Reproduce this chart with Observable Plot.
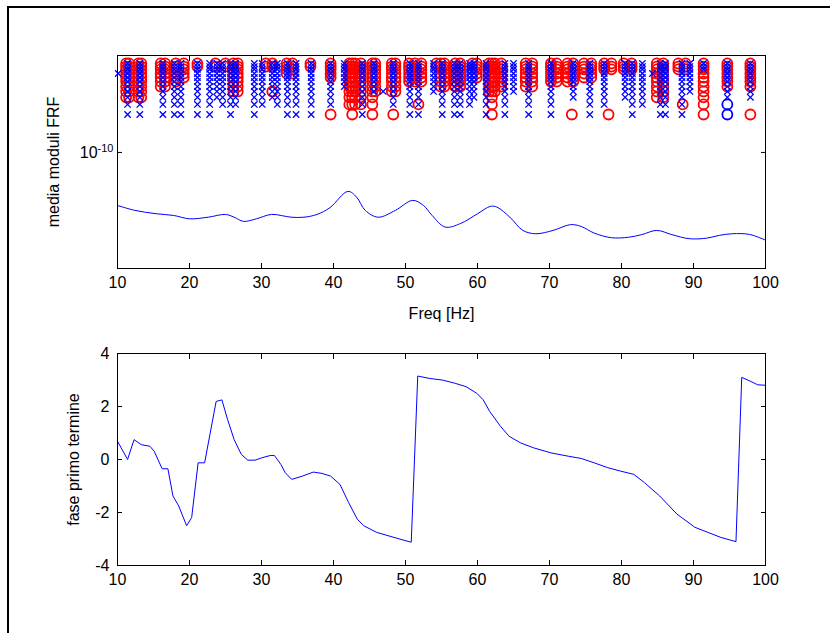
<!DOCTYPE html>
<html><head><meta charset="utf-8">
<script src="https://cdn.jsdelivr.net/npm/d3@7"></script>
<script src="https://cdn.jsdelivr.net/npm/@observablehq/plot@0.6"></script>
<style>
html,body{margin:0;padding:0;background:#fff;width:830px;height:633px;overflow:hidden;}
#fig{position:relative;width:830px;height:633px;background:#fff;}
#border{position:absolute;left:7px;top:6px;width:900px;height:700px;border-top:2px solid #000;border-left:2px solid #000;}
#p1{position:absolute;left:0;top:0;}
#p2{position:absolute;left:0;top:330px;}
</style></head><body>
<div id="fig"><div id="border"></div><div id="p1"></div><div id="p2"></div></div>
<script>
// ---------- data ----------
const freqTicks = [10, 20, 30, 40, 50, 60, 70, 80, 90, 100];
const frfTicks = [1e-10];
const phaseTicks = [-4, -2, 0, 2, 4];

// mean FRF modulus (top, blue line)
const frfFreq = [10, 12.4, 15.4, 17.8, 20, 22.6, 25, 26.2, 27.5, 29.3, 31.4, 34.1, 35.9, 37.7, 39.5, 42, 43.2, 44.4, 46.2, 48.6, 51, 52.5, 53.7, 55.5, 57.6, 60, 61.8, 62.7, 64.5, 66.3, 68.1, 70.5, 72.9, 74.4, 76.2, 78.6, 81, 82.8, 84.9, 87, 89.4, 91.8, 93.6, 95.4, 97.8, 100];
const frfMean = [4.43e-11, 4.11e-11, 3.90e-11, 3.80e-11, 3.61e-11, 3.70e-11, 3.86e-11, 3.70e-11, 3.47e-11, 3.61e-11, 3.86e-11, 3.70e-11, 3.70e-11, 3.86e-11, 4.28e-11, 5.50e-11, 5.04e-11, 4.11e-11, 3.70e-11, 4.11e-11, 4.79e-11, 4.43e-11, 3.80e-11, 3.18e-11, 3.35e-11, 3.90e-11, 4.37e-11, 4.32e-11, 3.70e-11, 3.02e-11, 2.87e-11, 3.02e-11, 3.30e-11, 3.21e-11, 2.90e-11, 2.70e-11, 2.72e-11, 2.83e-11, 3.02e-11, 2.83e-11, 2.66e-11, 2.68e-11, 2.80e-11, 2.87e-11, 2.84e-11, 2.60e-11];

// quantized modulus levels of the individual markers (row 0 = lowest)
const markerLevels = [1.79e-10, 2.09e-10, 2.33e-10, 2.55e-10, 2.75e-10, 2.97e-10, 3.16e-10, 3.36e-10, 3.58e-10, 3.74e-10, 3.92e-10];

// red circle columns: frequency and lowest row reached
const circleFreq = [11.2, 11.6, 12.9, 13.3, 16.0, 16.6, 18.1, 19.2, 21.1, 23.6, 25.0, 26.1, 26.7, 30.6, 31.5, 33.5, 34.3, 36.8, 39.6, 42.2, 43.0, 43.8, 42.6, 45.4, 45.8, 48.1, 48.6, 50.5, 51.3, 52.2, 54.3, 54.9, 55.4, 56.9, 57.6, 59.3, 59.9, 61.6, 62.0, 62.4, 63.3, 66.7, 67.6, 70.2, 71.0, 72.5, 73.3, 74.8, 75.8, 77.6, 78.6, 80.3, 81.4, 84.9, 85.8, 87.9, 88.9, 91.4, 94.7, 97.9];
const circleLowestRow = [2, 2, 2, 2, 4, 4, 5, 6, 9, 9, 9, 3, 3, 9, 9, 7, 7, 9, 6, 1, 1, 1, 0, 0, 3, 3, 3, 5, 5, 5, 9, 4, 4, 4, 4, 6, 6, 3, 0, 3, 4, 4, 4, 5, 5, 5, 5, 6, 6, 8, 8, 8, 8, 2, 2, 8, 8, 0, 4, 4];
const circleExtraFreq = [31.5, 39.6, 48.3, 51.8, 73.1, 78.2, 88.5, 97.9];
const circleExtraRow = [3, 0, 0, 1, 0, 0, 1, 0];

// blue cross columns
const crossFreq = [11.4, 13.1, 16.3, 17.9, 18.8, 21.1, 22.8, 23.8, 24.6, 25.7, 26.4, 29.0, 30.1, 31.5, 32.2, 33.6, 34.8, 36.9, 39.6, 41.5, 44.0, 45.6, 48.3, 50.6, 51.8, 53.9, 55.1, 56.8, 57.6, 58.9, 59.5, 61.2, 63.8, 65.0, 67.1, 70.2, 73.3, 75.6, 77.6, 80.5, 81.5, 82.9, 85.4, 86.1, 88.4, 89.5, 91.4, 94.7, 97.9];
const crossLowestRow = [0, 0, 0, 0, 0, 0, 0, 2, 1, 0, 1, 0, 1, 2, 1, 0, 0, 0, 1, 4, 0, 3, 1, 0, 0, 3, 0, 0, 0, 1, 2, 0, 0, 3, 0, 0, 2, 0, 1, 2, 0, 1, 0, 0, 0, 3, 8, 2, 2];
const crossExtraFreq = [10.1, 46.9, 84.3];
const crossExtraRow = [7, 3, 7];

// blue circles
const blueCircleFreq = [94.7, 94.7];
const blueCircleRow = [0, 1];

// phase of first term (bottom, blue line)
const phaseFreq = [10, 11.4, 12.3, 13.3, 14.5, 15.1, 16.2, 17.0, 17.7, 18.5, 19.6, 20.3, 21.2, 22.1, 23.7, 24.5, 25.3, 26.2, 27.2, 28.1, 29.1, 30.0, 31.2, 31.8, 32.7, 33.3, 34.2, 35.7, 37.2, 38.4, 39.6, 40.9, 42.1, 43.3, 44.2, 46.0, 48.4, 50.5, 50.8, 51.7, 53.3, 55.1, 56.9, 58.4, 59.9, 60.8, 61.7, 63.2, 64.4, 66.0, 67.8, 70.2, 72.6, 74.4, 76.2, 78.1, 79.9, 81.7, 83.2, 85.3, 87.7, 90.2, 92.0, 93.8, 95.9, 96.7, 98.0, 98.9, 100];
const phaseVal = [0.69, 0.0, 0.75, 0.56, 0.5, 0.31, -0.35, -0.35, -1.375, -1.75, -2.5, -2.19, -0.125, -0.125, 2.19, 2.25, 1.5, 0.75, 0.19, -0.025, -0.025, 0.06, 0.15, 0.15, -0.19, -0.5, -0.75, -0.625, -0.475, -0.525, -0.625, -0.94, -1.625, -2.25, -2.5, -2.75, -2.94, -3.1, -3.12, 3.15, 3.06, 3.0, 2.875, 2.75, 2.5, 2.25, 1.81, 1.25, 0.875, 0.625, 0.44, 0.25, 0.125, 0.04, -0.125, -0.31, -0.44, -0.56, -0.875, -1.375, -2.06, -2.56, -2.75, -2.94, -3.1, 3.1, 2.94, 2.82, 2.8];

// ---------- build tables ----------
const frf = frfFreq.map((f, i) => ({f, v: frfMean[i]}));
const phase = phaseFreq.map((f, i) => ({f, v: phaseVal[i]}));
function expandColumns(freqs, lowest) {
  const out = [];
  freqs.forEach((f, i) => { for (let k = lowest[i]; k < markerLevels.length; k++) out.push({f, v: markerLevels[k]}); });
  return out;
}
const singles = (freqs, rows) => freqs.map((f, i) => ({f, v: markerLevels[rows[i]]}));
const circles = expandColumns(circleFreq, circleLowestRow).concat(singles(circleExtraFreq, circleExtraRow));
const crosses = expandColumns(crossFreq, crossLowestRow).concat(singles(crossExtraFreq, crossExtraRow));
const blueCircles = singles(blueCircleFreq, blueCircleRow);

const font = "'Liberation Sans', Arial, sans-serif";
const style = {fontFamily: font, fontSize: "16px", color: "#000", background: "transparent", overflow: "visible"};
const BLUE = "#0000ff", RED = "#ff0000";

const p1 = Plot.plot({
  width: 830, height: 330,
  marginLeft: 117, marginRight: 65, marginTop: 55, marginBottom: 62,
  style,
  x: {domain: [10, 100]},
  y: {type: "log", domain: [1.683e-11, 4.43e-10]},
  marks: [
    Plot.line(frf, {x: "f", y: "v", stroke: BLUE, strokeWidth: 1, curve: "catmull-rom"}),
    Plot.dot(circles, {x: "f", y: "v", r: 5, stroke: RED, strokeWidth: 1.8, symbol: "circle"}),
    Plot.dot(crosses, {x: "f", y: "v", r: 3, stroke: BLUE, strokeWidth: 1.3, symbol: "times"}),
    Plot.dot(blueCircles, {x: "f", y: "v", r: 5, stroke: BLUE, strokeWidth: 1.8, symbol: "circle"}),
    Plot.frame({stroke: "#000"}),
    Plot.axisX({anchor: "bottom", ticks: freqTicks, tickSize: 0, tickPadding: 8, tickFormat: d => String(d), label: "Freq [Hz]", labelAnchor: "center", labelOffset: 50, labelArrow: "none"}),
    Plot.axisX({anchor: "bottom", ticks: freqTicks, tickSize: -5, tickFormat: () => "", label: null}),
    Plot.axisX({anchor: "top", ticks: freqTicks, tickSize: -5, tickFormat: () => "", label: null}),
    Plot.axisY({anchor: "left", ticks: frfTicks, tickSize: 0, tickPadding: 4, tickFormat: () => "10", label: "media moduli FRF", labelAnchor: "center", labelOffset: 70, labelArrow: "none"}),
    Plot.axisY({anchor: "left", ticks: frfTicks, tickSize: -5, tickFormat: () => "", label: null}),
    Plot.axisY({anchor: "right", ticks: frfTicks, tickSize: -5, tickFormat: () => "", label: null})
  ]
});
document.getElementById("p1").appendChild(p1);
d3.select(p1).selectAll('g[aria-label="y-axis tick label"] text').each(function() {
  const t = d3.select(this);
  if (t.text() === "10") t.append("tspan").attr("dy", "-0.55em").style("font-size", "11px").text("-10");
});

const p2 = Plot.plot({
  width: 830, height: 303,
  marginLeft: 117, marginRight: 65, marginTop: 23, marginBottom: 68,
  style,
  x: {domain: [10, 100]},
  y: {domain: [-4, 4]},
  marks: [
    Plot.line(phase, {x: "f", y: "v", stroke: BLUE, strokeWidth: 1}),
    Plot.frame({stroke: "#000"}),
    Plot.axisX({anchor: "bottom", ticks: freqTicks, tickSize: 0, tickPadding: 8, tickFormat: d => String(d), label: null}),
    Plot.axisX({anchor: "bottom", ticks: freqTicks, tickSize: -5, tickFormat: () => "", label: null}),
    Plot.axisX({anchor: "top", ticks: freqTicks, tickSize: -5, tickFormat: () => "", label: null}),
    Plot.axisY({anchor: "left", ticks: phaseTicks, tickSize: 0, tickPadding: 8, tickFormat: d => String(d), label: "fase primo termine", labelAnchor: "center", labelOffset: 50, labelArrow: "none"}),
    Plot.axisY({anchor: "left", ticks: phaseTicks, tickSize: -5, tickFormat: () => "", label: null}),
    Plot.axisY({anchor: "right", ticks: phaseTicks, tickSize: -5, tickFormat: () => "", label: null})
  ]
});
document.getElementById("p2").appendChild(p2);
</script>
</body></html>
